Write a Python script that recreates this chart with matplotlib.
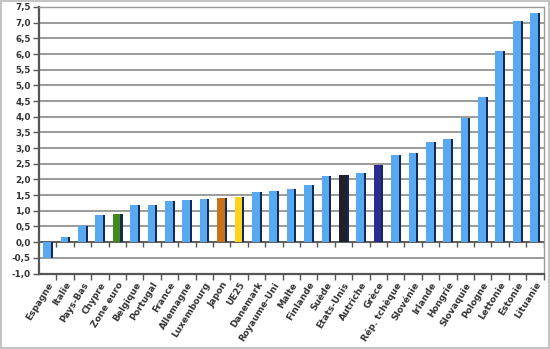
import matplotlib.pyplot as plt
import numpy as np

pays = ["Espagne", "Italie", "Pays-Bas", "Chypre", "Zone euro", "Belgique",
        "Portugal", "France", "Allemagne", "Luxembourg", "Japon", "UE25",
        "Danemark", "Royaume-Uni", "Malte", "Finlande", "Suède", "Etats-Unis",
        "Autriche", "Grèce", "Rép. tchèque", "Slovénie", "Irlande", "Hongrie",
        "Slovaquie", "Pologne", "Lettonie", "Estonie", "Lituanie"]
valeurs = [-0.52, 0.17, 0.53, 0.86, 0.91, 1.18, 1.20, 1.30, 1.34, 1.38,
           1.42, 1.44, 1.60, 1.64, 1.69, 1.82, 2.10, 2.15, 2.21, 2.45,
           2.77, 2.83, 3.19, 3.29, 3.95, 4.62, 6.11, 7.04, 7.32]

# couleurs particulières pour les agrégats et pays hors UE
couleurs_speciales = {
    "Zone euro": "#3f8a1c",
    "Japon": "#c8711c",
    "UE25": "#fdd31f",
    "Etats-Unis": "#1f2029",
    "Grèce": "#2b2c92",
}
bleu = "#57aaf2"
cote = "#132a55"

fig = plt.figure(figsize=(5.5, 3.49), dpi=100)
fig.patch.set_facecolor("white")
ax = fig.add_axes([0.0709, 0.2163, 0.9173, 0.7637])

x = np.arange(len(pays))
faces = [couleurs_speciales.get(p, bleu) for p in pays]

ax.set_xlim(-0.5, len(pays) - 0.5)
ax.set_ylim(-1.0, 7.5)
yt = np.arange(-1.0, 7.51, 0.5)
ax.set_yticks(yt)
ax.set_yticklabels([f"{v:.1f}".replace(".", ",") for v in yt],
                   fontsize=6.3, fontweight="bold", color="#333333")
ax.yaxis.grid(True, color="#808080", linewidth=1.1)
ax.set_axisbelow(True)

# barres : face avant + côté sombre pour l'effet de relief
ax.bar(x - 0.04, valeurs, width=0.44, color=faces, zorder=3)
ax.bar(x + 0.24, valeurs, width=0.12, color=cote, zorder=3)

# petits repères sur la ligne du zéro
ax.vlines(x + 0.5, -0.15, 0, color="#555555", linewidth=1.0, zorder=2)
ax.axhline(0, color="#555555", linewidth=1.2, zorder=2)

ax.set_xticks(x)
ax.set_xticklabels(pays, rotation=58, ha="right", rotation_mode="anchor",
                   fontsize=6.5, fontweight="bold", color="#333333")
ax.set_xticks(x + 0.5, minor=True)
ax.tick_params(axis="x", which="major", length=0, pad=5)
ax.tick_params(axis="x", which="minor", length=4, width=1, color="#555555")
ax.tick_params(axis="y", length=4, width=1, color="#555555", pad=2)

for s in ["left", "bottom"]:
    ax.spines[s].set_color("#555555")
    ax.spines[s].set_linewidth(1.6)
for s in ["top", "right"]:
    ax.spines[s].set_color("#9a9a9a")
    ax.spines[s].set_linewidth(1.0)

# cadre gris autour de l'image
fig.patches.append(plt.Rectangle((0.002, 0.003), 0.996, 0.994,
                                 transform=fig.transFigure, fill=False,
                                 edgecolor="#c4c4c4", linewidth=1.5))

fig.savefig("out.png", dpi=100)
